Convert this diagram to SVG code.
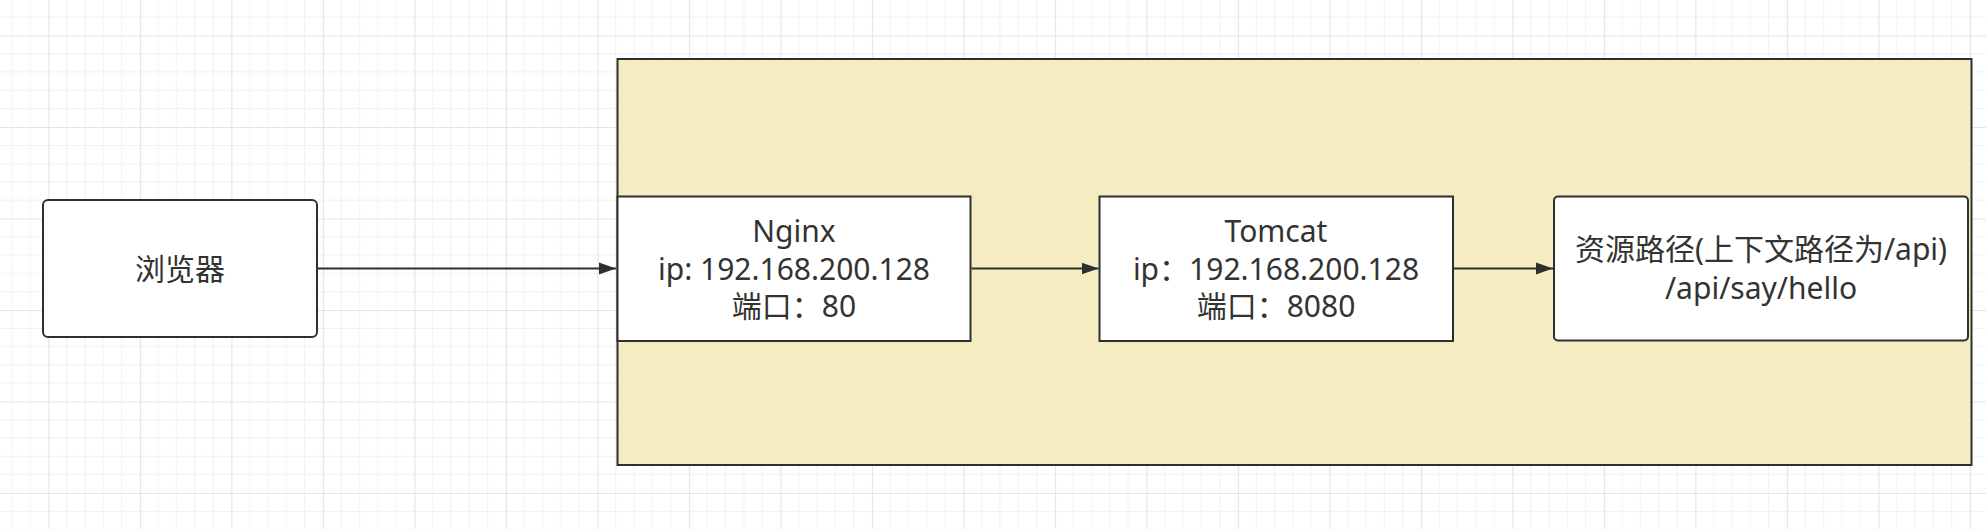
<svg xmlns="http://www.w3.org/2000/svg" width="1986" height="529" viewBox="0 0 1986 529">
  <defs>
    <pattern id="grid" patternUnits="userSpaceOnUse" x="48.4" y="35.5" width="91.5" height="91.5">
      <rect width="91.5" height="91.5" fill="#ffffff"/>
      <path d="M18.3 0V91.5M36.6 0V91.5M54.9 0V91.5M73.2 0V91.5M0 18.3H91.5M0 36.6H91.5M0 54.9H91.5M0 73.2H91.5" stroke="#f1f1f1" stroke-width="1" fill="none"/>
      <path d="M0.5 0V91.5M0 0.5H91.5" stroke="#e5e5e5" stroke-width="1.2" fill="none"/>
    </pattern>
    <marker id="arrow" markerUnits="userSpaceOnUse" markerWidth="18" markerHeight="13" refX="17" refY="6.5" orient="auto">
      <path d="M0 0.5 L17 6.5 L0 12.5 Z" fill="#2d3033"/>
    </marker>
    <style>
      .box { fill: #ffffff; stroke: #2d3033; stroke-width: 2; }
      .container { fill: #f5edc1; stroke: #2d3033; stroke-width: 2; }
      .label { font-family: "Noto Sans", "Noto Sans CJK SC", sans-serif; font-size: 30px; fill: #333333; text-anchor: middle; }
      .edge { stroke: #2d3033; stroke-width: 2; fill: none; }
    </style>
  </defs>

  <rect x="0" y="0" width="1986" height="529" fill="url(#grid)"/>

  <g id="container">
    <rect class="container" x="617.5" y="59" width="1354" height="406"/>
  </g>

  <g id="browser">
    <rect class="box" x="43" y="200" width="274" height="137" rx="5" ry="5"/>
    <text class="label" x="180" y="280">浏览器</text>
  </g>

  <g id="nginx">
    <rect class="box" x="617.5" y="196.5" width="353" height="144.5"/>
    <text class="label" x="794" y="242">Nginx</text>
    <text class="label" x="794" y="279.5">ip: 192.168.200.128</text>
    <text class="label" x="794" y="317">端口：80</text>
  </g>

  <g id="tomcat">
    <rect class="box" x="1099.5" y="196.5" width="353.5" height="144.5"/>
    <text class="label" x="1276" y="242">Tomcat</text>
    <text class="label" x="1276" y="279.5">ip：192.168.200.128</text>
    <text class="label" x="1276" y="317">端口：8080</text>
  </g>

  <g id="resource">
    <rect class="box" x="1554" y="196.5" width="414" height="144" rx="4" ry="4"/>
    <text class="label" x="1761" y="260">资源路径(上下文路径为/api)</text>
    <text class="label" x="1761" y="298.5">/api/say/hello</text>
  </g>

  <g id="connectors">
    <path class="edge" d="M318 268.5 H616" marker-end="url(#arrow)"/>
    <path class="edge" d="M971.5 268.5 H1098.5" marker-end="url(#arrow)"/>
    <path class="edge" d="M1454 268.5 H1553" marker-end="url(#arrow)"/>
  </g>
</svg>
